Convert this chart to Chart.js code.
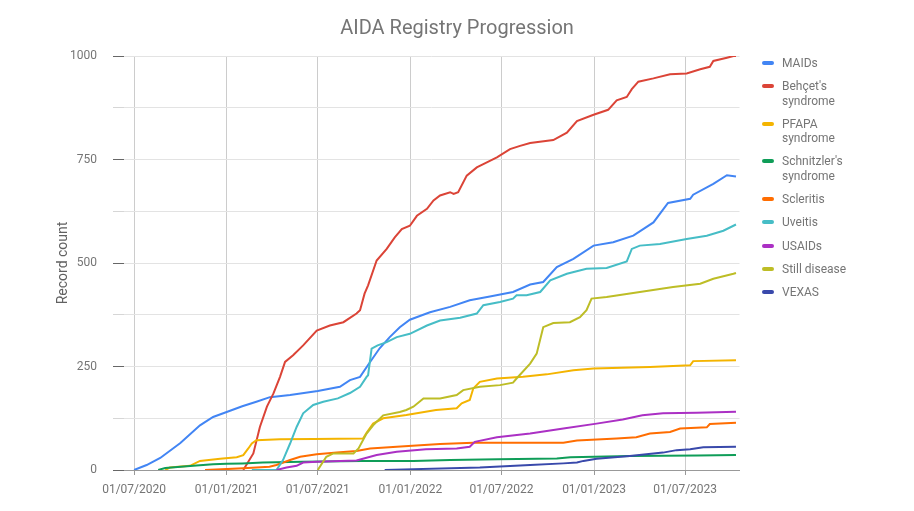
<!DOCTYPE html>
<html>
<head>
<meta charset="utf-8">
<title>AIDA Registry Progression</title>
<script src="https://cdn.jsdelivr.net/npm/chart.js@4.4.1/dist/chart.umd.min.js"></script>
<style>
  body { margin: 0; background: #fff; }
  #wrap { position: relative; width: 914px; height: 511px; }
  #legend { position: absolute; left: 762px; top: 56px; font: 12px Roboto, sans-serif; color: #757575; }
  .item { display: flex; align-items: flex-start; margin-bottom: 9px; }
  .swatch { width: 12px; height: 4px; border-radius: 2px; margin: 5px 8px 0 0; flex: none; }
  .label { width: 85px; line-height: 14.3px; }
</style>
</head>
<body>
<div id="wrap">
  <canvas id="chart" width="914" height="511"></canvas>
  <div id="legend"></div>
</div>
<script>
const tickLabels = ['01/07/2020', '01/01/2021', '01/07/2021', '01/01/2022', '01/07/2022', '01/01/2023', '01/07/2023'];

const maidsDates = ['2020-07-01','2020-07-26','2020-08-22','2020-10-01','2020-11-09','2020-12-05','2021-01-01','2021-02-01','2021-03-01','2021-03-28',
  '2021-05-07','2021-07-01','2021-08-14','2021-09-03','2021-09-23','2021-10-13','2021-11-01','2021-11-21','2021-12-11','2021-12-31',
  '2022-02-09','2022-03-21','2022-04-29','2022-06-08','2022-07-24','2022-08-27','2022-09-22','2022-10-19','2022-11-21','2022-12-31',
  '2023-02-08','2023-03-20','2023-04-29','2023-05-28','2023-07-11','2023-07-17','2023-08-26','2023-09-22','2023-10-10'];
const maidsValues = [0, 12, 29, 65, 108, 128, 140, 154, 165, 176,
  181, 191, 201, 217, 225, 261, 294, 321, 345, 363,
  381, 394, 410, 419, 430, 448, 454, 490, 510, 542,
  550, 566, 598, 645, 655, 665, 691, 712, 709];

const behcetDates = ['2021-02-03','2021-02-23','2021-03-08','2021-03-22','2021-04-04','2021-04-17','2021-04-27','2021-05-13','2021-06-02','2021-06-29',
  '2021-07-25','2021-08-21','2021-09-16','2021-09-23','2021-10-02','2021-10-09','2021-10-26','2021-11-15','2021-12-01','2021-12-15',
  '2021-12-31','2022-01-14','2022-02-03','2022-02-16','2022-03-01','2022-03-21','2022-03-28','2022-04-06','2022-04-23','2022-05-13',
  '2022-06-02','2022-06-22','2022-07-18','2022-08-07','2022-08-27','2022-10-12','2022-11-08','2022-11-28','2022-12-31','2023-01-29',
  '2023-02-15','2023-03-07','2023-03-17','2023-03-30','2023-04-29','2023-06-01','2023-07-04','2023-07-31','2023-08-19','2023-08-26',
  '2023-09-22','2023-10-05','2023-10-10'];
const behcetValues = [0, 40, 104, 153, 185, 225, 261, 277, 301, 337,
  349, 357, 378, 386, 426, 446, 506, 534, 562, 582,
  590, 614, 631, 651, 663, 671, 667, 671, 711, 731,
  743, 755, 775, 783, 790, 797, 815, 843, 858, 870,
  893, 901, 920, 938, 946, 956, 958, 968, 974, 988,
  996, 1000, 1000];

const pfapaDates = ['2020-09-01','2020-09-10','2020-10-20','2020-11-09','2020-12-19','2021-01-21','2021-02-03','2021-02-13','2021-02-20','2021-03-01',
  '2021-04-17','2021-06-22','2021-09-29','2021-10-06','2021-10-19','2021-11-08','2021-12-24','2022-02-21','2022-04-03','2022-04-13',
  '2022-04-29','2022-05-06','2022-05-19','2022-06-22','2022-08-13','2022-09-29','2022-11-21','2022-12-31','2023-04-22','2023-07-11',
  '2023-07-17','2023-10-10'];
const pfapaValues = [0, 6, 10, 22, 27, 31, 36, 52, 64, 72,
  74, 75, 76, 90, 112, 125, 133, 145, 149, 161,
  169, 197, 213, 221, 225, 231, 241, 245, 249, 253,
  263, 265];

const schnitzlerDates = ['2020-08-18','2020-09-01','2020-11-02','2020-12-05','2021-01-01','2021-02-01','2021-03-14','2021-06-01','2021-09-28','2022-01-07',
  '2022-03-21','2022-06-24','2022-10-19','2022-11-15','2023-03-13','2023-07-26','2023-10-10'];
const schnitzlerValues = [0, 5, 11, 14, 15, 16, 18, 20, 22, 22,
  24, 26, 28, 31, 34, 35, 36];

const scleritisDates = ['2020-11-19','2021-02-03','2021-03-27','2021-04-10','2021-05-07','2021-05-27','2021-06-29','2021-08-08','2021-09-16','2021-10-13',
  '2021-12-05','2022-03-01','2022-05-06','2022-11-01','2022-11-28','2023-02-15','2023-03-26','2023-04-22','2023-06-01','2023-06-21',
  '2023-08-13','2023-08-19','2023-10-10'];
const scleritisValues = [0, 4, 8, 12, 24, 32, 38, 42, 46, 52,
  56, 63, 66, 66, 71, 76, 79, 88, 92, 100,
  103, 111, 114];

const uveitisDates = ['2021-02-20','2021-04-10','2021-04-23','2021-05-07','2021-05-20','2021-06-02','2021-06-22','2021-07-12','2021-08-10','2021-09-03',
  '2021-09-23','2021-10-06','2021-10-09','2021-10-16','2021-10-28','2021-11-15','2021-12-05','2021-12-31','2022-02-03','2022-03-01',
  '2022-04-10','2022-05-13','2022-05-26','2022-06-28','2022-07-24','2022-07-31','2022-08-20','2022-09-16','2022-10-06','2022-11-08',
  '2022-12-17','2023-01-26','2023-03-07','2023-03-17','2023-04-02','2023-05-12','2023-07-04','2023-08-13','2023-09-15','2023-10-10'];
const uveitisValues = [0, 0, 24, 64, 104, 137, 157, 165, 173, 186,
  201, 225, 229, 293, 301, 309, 321, 329, 349, 361,
  368, 378, 398, 406, 414, 422, 422, 430, 458, 474,
  486, 488, 504, 534, 542, 546, 558, 566, 578, 593];

const usaidsDates = ['2021-04-10','2021-04-30','2021-05-20','2021-06-02','2021-06-29','2021-09-16','2021-10-26','2021-12-05','2022-02-01','2022-04-03',
  '2022-04-29','2022-05-09','2022-06-22','2022-08-27','2022-11-01','2023-01-06','2023-02-27','2023-04-07','2023-05-18','2023-07-24',
  '2023-10-10'];
const usaidsValues = [0, 6, 10, 18, 20, 23, 36, 44, 50, 52,
  56, 68, 79, 88, 100, 112, 122, 132, 137, 138,
  141];

const stillDates = ['2021-07-01','2021-07-18','2021-08-01','2021-09-10','2021-09-20','2021-10-06','2021-10-19','2021-11-08','2021-12-11','2021-12-24',
  '2022-01-07','2022-01-27','2022-03-01','2022-04-03','2022-04-16','2022-05-19','2022-06-28','2022-07-24','2022-07-31','2022-08-27',
  '2022-09-09','2022-09-22','2022-10-12','2022-11-14','2022-12-04','2022-12-17','2022-12-27','2023-01-26','2023-04-02','2023-06-07',
  '2023-07-31','2023-08-26','2023-10-05','2023-10-10'];
const stillValues = [0, 32, 40, 40, 52, 88, 108, 132, 140, 145,
  153, 173, 173, 181, 193, 201, 205, 211, 221, 257,
  281, 345, 355, 357, 369, 386, 414, 418, 430, 442,
  450, 462, 474, 476];

const vexasDates = ['2021-11-11','2022-01-07','2022-05-19','2022-08-27','2022-11-01','2022-11-28','2022-12-11','2023-01-06','2023-03-13','2023-05-18',
  '2023-06-14','2023-07-11','2023-08-06','2023-10-10'];
const vexasValues = [0, 2, 6, 12, 16, 18, 22, 27, 34, 42,
  48, 50, 55, 56];

const seriesNames = ['MAIDs', "Behçet's syndrome", 'PFAPA syndrome', "Schnitzler's syndrome", 'Scleritis', 'Uveitis', 'USAIDs', 'Still disease', 'VEXAS'];
const seriesDates = [maidsDates, behcetDates, pfapaDates, schnitzlerDates, scleritisDates, uveitisDates, usaidsDates, stillDates, vexasDates];
const seriesValues = [maidsValues, behcetValues, pfapaValues, schnitzlerValues, scleritisValues, uveitisValues, usaidsValues, stillValues, vexasValues];
const seriesColors = ['#4285f4', '#db4437', '#f4b400', '#0f9d58', '#ff6d01', '#46bdc6', '#ab30c4', '#bdbd26', '#3949ab'];

Chart.defaults.font.family = 'Roboto, sans-serif';
Chart.defaults.color = '#757575';

// tick labels are dd/mm/yyyy
const tickValues = tickLabels.map(s => {
  const [d, m, y] = s.split('/');
  return Date.UTC(+y, +m - 1, +d);
});

const datasets = seriesNames.map((name, i) => ({
  label: name,
  data: seriesDates[i].map((d, j) => ({ x: Date.parse(d), y: seriesValues[i][j] })),
  borderColor: seriesColors[i],
  backgroundColor: seriesColors[i],
  borderWidth: 2,
  pointRadius: 0,
  tension: 0,
  yAxisID: 'y',
  order: -i
}));

new Chart(document.getElementById('chart'), {
  type: 'line',
  data: { datasets: datasets },
  options: {
    responsive: false,
    animation: false,
    layout: { padding: 0 },
    plugins: {
      legend: { display: false },
      tooltip: { enabled: false },
      title: {
        display: true,
        text: 'AIDA Registry Progression',
        color: '#757575',
        font: { size: 20, weight: 'normal' },
        padding: { top: 17, bottom: 15 }
      }
    },
    scales: {
      x: {
        type: 'linear',
        min: Date.UTC(2020, 5, 11),
        max: Date.UTC(2023, 9, 17),
        afterBuildTicks: s => { s.ticks = tickValues.map(v => ({ value: v })); },
        afterFit: s => { s.height = 41; },
        ticks: {
          callback: (v, i) => tickLabels[i],
          font: { size: 12 },
          color: '#757575',
          padding: 8,
          maxRotation: 0,
          autoSkip: false
        },
        grid: { color: '#cccccc', tickLength: 5, tickColor: '#999999' },
        border: { display: true, color: '#999999' }
      },
      y: {
        min: 0,
        max: 1000,
        afterFit: s => { s.width = 124; },
        ticks: {
          stepSize: 125,
          autoSkip: false,
          callback: v => (v % 250 === 0 ? v : ''),
          font: { size: 12 },
          color: '#757575',
          padding: 16
        },
        grid: {
          color: c => (c.tick && c.tick.value === 0 ? '#999999' : '#e3e3e3'),
          tickLength: 11,
          tickColor: c => (c.tick && c.tick.value % 250 === 0 ? '#666666' : '#d6d6d6')
        },
        border: { display: false },
        title: {
          display: true,
          text: 'Record count',
          color: '#616161',
          font: { size: 14 },
          padding: { top: 55, bottom: 0 }
        }
      },
      side: {
        type: 'linear',
        axis: 'y',
        position: 'right',
        display: true,
        afterFit: s => { s.width = 174.5; },
        grid: { display: false },
        ticks: { display: false },
        border: { display: false }
      }
    }
  }
});

const legend = document.getElementById('legend');
seriesNames.forEach((name, i) => {
  const item = document.createElement('div');
  item.className = 'item';
  const sw = document.createElement('span');
  sw.className = 'swatch';
  sw.style.background = seriesColors[i];
  const lab = document.createElement('span');
  lab.className = 'label';
  lab.textContent = name;
  item.appendChild(sw);
  item.appendChild(lab);
  legend.appendChild(item);
});
</script>
</body>
</html>
